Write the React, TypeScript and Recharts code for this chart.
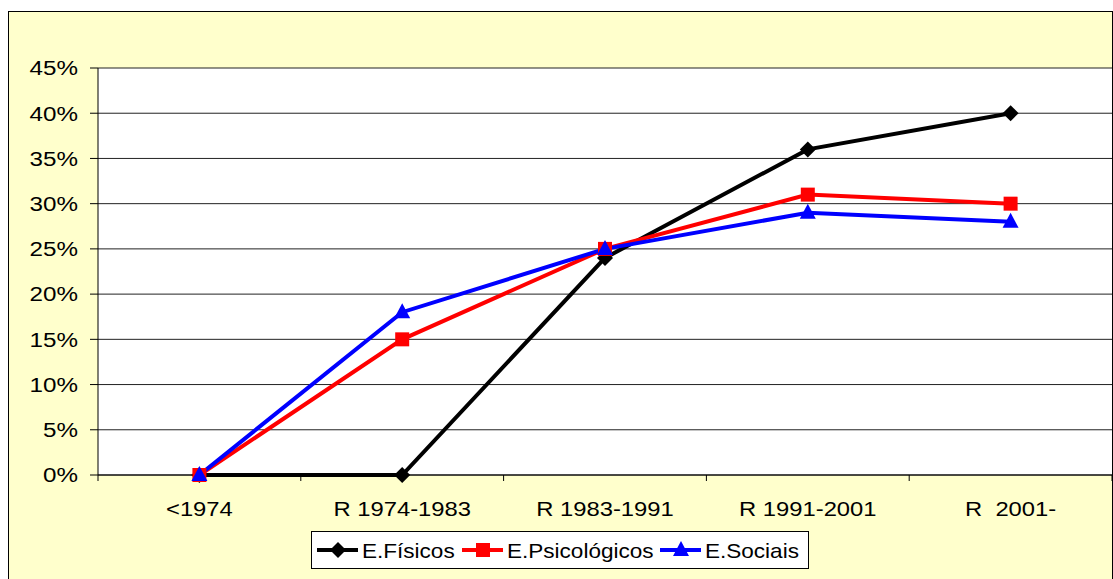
import React from "react";
import {
  LineChart,
  Line,
  XAxis,
  YAxis,
  CartesianGrid,
} from "recharts";

const categories = ["<1974", "R 1974-1983", "R 1983-1991", "R 1991-2001", "R  2001-"];
const fisicos = [0, 0, 24, 36, 40];
const psicologicos = [0, 15, 25, 31, 30];
const sociais = [0, 18, 25, 29, 28];
const yTicks = [0, 5, 10, 15, 20, 25, 30, 35, 40, 45];

const data = categories.map((cat, i) => ({
  cat,
  fisicos: fisicos[i],
  psicologicos: psicologicos[i],
  sociais: sociais[i],
}));

const FONT = '"Liberation Sans", Arial, sans-serif';
const W = 1113;
const H = 579;
const PLOT_W = 1014;
const BAND = PLOT_W / categories.length;

type Shape = "diamond" | "square" | "triangle";

function markerPath(shape: Shape, cx: number, cy: number) {
  if (shape === "diamond") {
    return `M${cx},${cy - 8}L${cx + 8},${cy}L${cx},${cy + 8}L${cx - 8},${cy}Z`;
  }
  if (shape === "square") {
    return `M${cx - 7},${cy - 7}h14v14h-14Z`;
  }
  return `M${cx},${cy - 9}L${cx + 8},${cy + 6}L${cx - 8},${cy + 6}Z`;
}

const series: { key: string; name: string; color: string; shape: Shape }[] = [
  { key: "fisicos", name: "E.Físicos", color: "#000000", shape: "diamond" },
  { key: "psicologicos", name: "E.Psicológicos", color: "#ff0000", shape: "square" },
  { key: "sociais", name: "E.Sociais", color: "#0000ff", shape: "triangle" },
];

const makeDot = (shape: Shape, color: string) => (props: any) => {
  const { cx, cy, index } = props;
  if (cx == null || cy == null) return <g key={`n-${index}`} />;
  return <path key={`${shape}-${index}`} d={markerPath(shape, cx, cy)} fill={color} stroke="none" />;
};

const YTick = (props: any) => {
  const { x, y, payload } = props;
  return (
    <text
      transform={`translate(${x},${y}) scale(1.18,1)`}
      textAnchor="end"
      dy="0.36em"
      fontSize={20.5}
      fontFamily={FONT}
      fill="#000"
    >
      {`${payload.value}%`}
    </text>
  );
};

const XTick = (props: any) => {
  const { x, y, payload, index } = props;
  const axisY = y - 20;
  const left = x - BAND / 2;
  return (
    <g>
      <line x1={left} x2={left} y1={axisY} y2={axisY + 6} stroke="#000" />
      {index === categories.length - 1 && (
        <line x1={x + BAND / 2} x2={x + BAND / 2} y1={axisY} y2={axisY + 6} stroke="#000" />
      )}
      <text
        transform={`translate(${x},${axisY + 41}) scale(1.16,1)`}
        textAnchor="middle"
        fontSize={20.5}
        fontFamily={FONT}
        fill="#000"
        style={{ whiteSpace: "pre" }}
      >
        {payload.value}
      </text>
    </g>
  );
};

// where each legend entry starts inside the legend box
const legendX = [6, 151, 349];

function LegendBox() {
  return (
    <svg
      width={498}
      height={38}
      style={{ position: "absolute", left: 311, top: 531 }}
    >
      <rect x={0.5} y={0.5} width={497} height={37} fill="#fff" stroke="#000" />
      {series.map((s, i) => {
        const x0 = legendX[i];
        return (
          <g key={s.key}>
            <line x1={x0} x2={x0 + 41} y1={19} y2={19} stroke={s.color} strokeWidth={4} />
            <path d={markerPath(s.shape, x0 + 21, 19)} fill={s.color} />
            <text
              transform={`translate(${x0 + 45},26.5) scale(1.1,1)`}
              fontSize={20.5}
              fontFamily={FONT}
              fill="#000"
            >
              {s.name}
            </text>
          </g>
        );
      })}
    </svg>
  );
}

export default function App() {
  return (
    <div
      style={{
        position: "absolute",
        left: 0,
        top: 0,
        width: W,
        height: H,
        background: "#fff",
        overflow: "hidden",
      }}
    >
      <div
        style={{
          position: "absolute",
          left: 8,
          top: 11,
          width: 1103,
          height: 580,
          background: "#ffffcc",
          border: "1px solid #000",
        }}
      />
      <div style={{ position: "absolute", left: 0, top: 0 }}>
        <LineChart
          width={W}
          height={H}
          data={data}
          margin={{ top: 68, right: 1, bottom: 64, left: 8 }}
        >
          <CartesianGrid horizontal vertical={false} stroke="#222" fill="#fff" fillOpacity={1} />
          <XAxis
            dataKey="cat"
            height={40}
            padding={{ left: BAND / 2, right: BAND / 2 }}
            axisLine={{ stroke: "#000" }}
            tickLine={{ stroke: "none" }}
            tickSize={6}
            tickMargin={14}
            tick={<XTick />}
            interval={0}
          />
          <YAxis
            width={90}
            domain={[0, 45]}
            ticks={yTicks}
            interval={0}
            axisLine={{ stroke: "#000" }}
            tickLine={{ stroke: "#000" }}
            tickSize={8}
            tickMargin={12}
            tick={<YTick />}
          />
          <YAxis
            yAxisId="edge"
            orientation="right"
            width={0}
            domain={[0, 45]}
            tick={false}
            tickLine={false}
            axisLine={{ stroke: "#808080" }}
          />
          {series.map((s) => (
            <Line
              key={s.key}
              dataKey={s.key}
              name={s.name}
              stroke={s.color}
              strokeWidth={4}
              dot={makeDot(s.shape, s.color)}
              activeDot={false}
              isAnimationActive={false}
            />
          ))}
        </LineChart>
      </div>
      <LegendBox />
    </div>
  );
}
